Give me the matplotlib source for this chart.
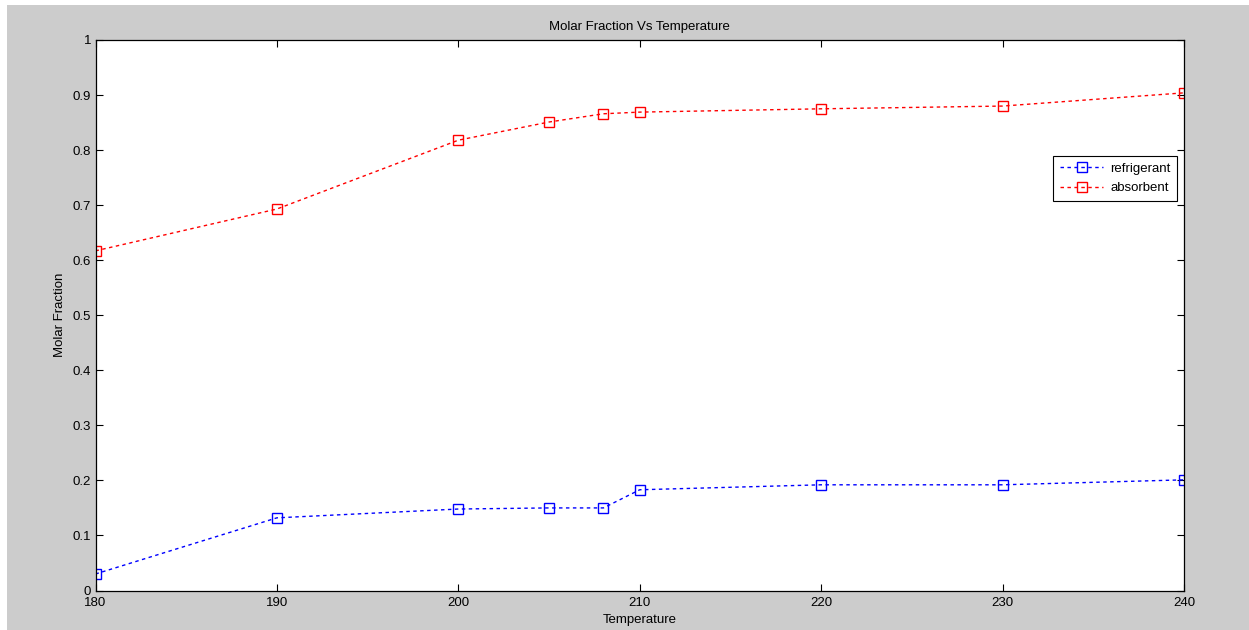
import numpy as np
from matplotlib import pyplot as plt
from matplotlib.patches import Rectangle

plt.rcParams['font.family'] = ['Liberation Sans', 'DejaVu Sans']

temperature = [180, 190, 200, 205, 208, 210, 220, 230, 240]
refrigerant = [0.030, 0.132, 0.148, 0.150, 0.150, 0.183, 0.192, 0.192, 0.201]
absorbent = [0.617, 0.693, 0.818, 0.851, 0.866, 0.869, 0.875, 0.880, 0.904]

fs = 9.5

fig = plt.figure(figsize=(12.49, 6.30), dpi=100, facecolor='white')
# grey window background with a thin white margin on the left and top
fig.patches.append(Rectangle((7/1249, 0), 1, 1 - 5/630, transform=fig.transFigure,
                             facecolor='#cccccc', edgecolor='none', zorder=-1))

ax = fig.add_axes([95.5/1249, 39.5/630, 1088.5/1249, 550.5/630])

dots = (0, (2.5, 2.5))
ax.plot(temperature, refrigerant, color='b', linestyle=dots, lw=1,
        marker='s', markersize=7, markerfacecolor='none', markeredgewidth=1,
        label='refrigerant')
ax.plot(temperature, absorbent, color='r', linestyle=dots, lw=1,
        marker='s', markersize=7, markerfacecolor='none', markeredgewidth=1,
        label='absorbent')

ax.set_xlim(180, 240)
ax.set_ylim(0, 1)
ax.set_xticks(np.arange(180, 241, 10))
ax.set_yticks(np.arange(0, 1.01, 0.1))
ax.set_yticklabels(['0', '0.1', '0.2', '0.3', '0.4', '0.5', '0.6', '0.7', '0.8', '0.9', '1'])
ax.tick_params(direction='in', length=5, width=0.8, top=True, right=True,
               labelsize=fs)
ax.tick_params(axis='x', pad=4.5)
ax.tick_params(axis='y', pad=3)
for s in ax.spines.values():
    s.set_linewidth(0.9)

ax.set_title('Molar Fraction Vs Temperature', fontsize=fs, pad=7)
ax.set_xlabel('Temperature', fontsize=fs, labelpad=4)
ax.set_ylabel('Molar Fraction', fontsize=fs, labelpad=5)

leg = ax.legend(loc='upper right', bbox_to_anchor=(0.9936, 0.789), fontsize=fs,
                frameon=True, fancybox=False, edgecolor='black', framealpha=1,
                handlelength=3.3, borderpad=0.5, labelspacing=0.55,
                handletextpad=0.5, borderaxespad=0)
leg.get_frame().set_linewidth(0.8)

fig.savefig('out.png', dpi=100, facecolor=fig.get_facecolor())
